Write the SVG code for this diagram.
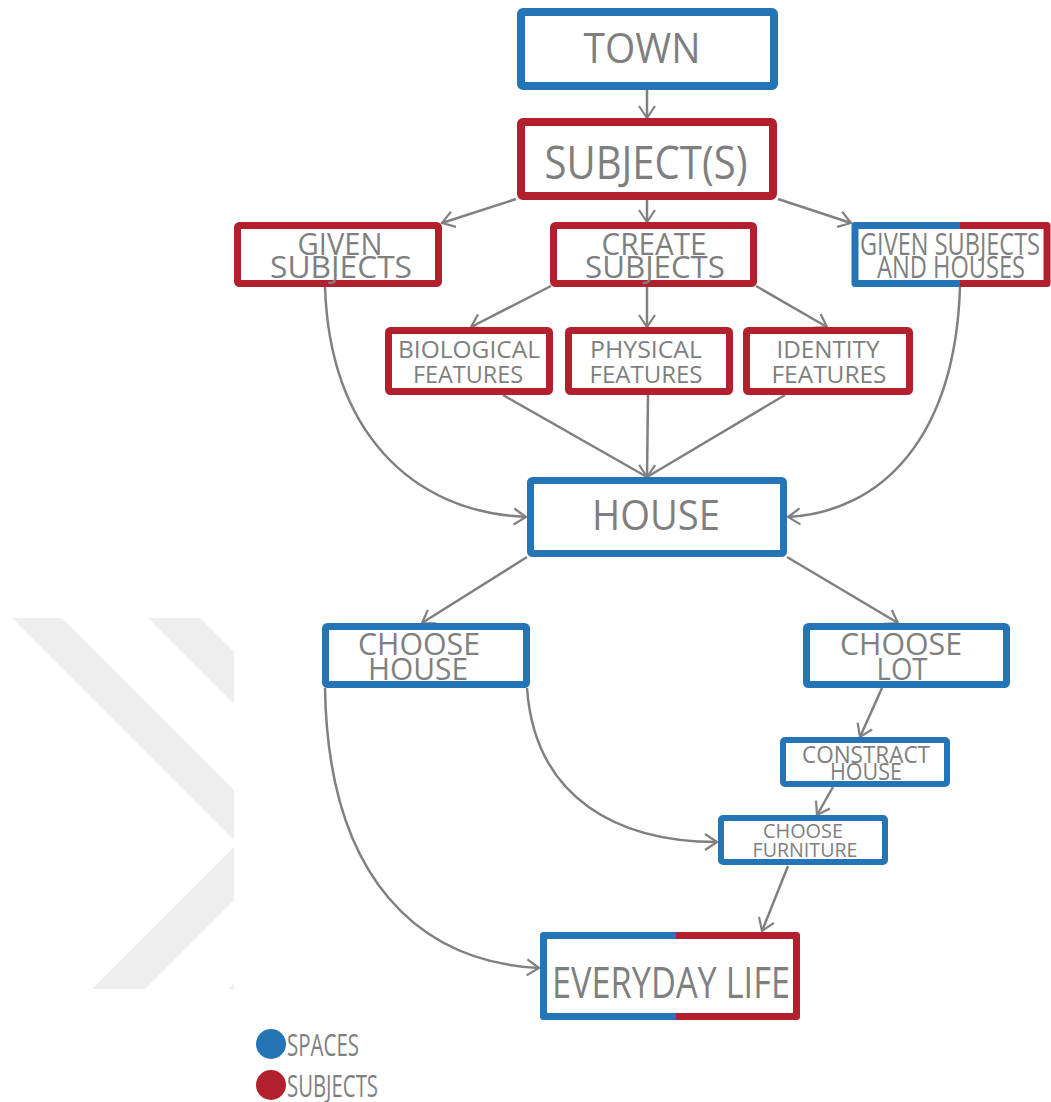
<svg xmlns="http://www.w3.org/2000/svg" width="1051" height="1102" viewBox="0 0 1051 1102">
<defs>
<style>
.bg{fill:#ffffff}
.wm{fill:#eeeeee}
.b{fill:#ffffff;stroke:#2474b6;stroke-linejoin:round}
.r{fill:#ffffff;stroke:#b2202e;stroke-linejoin:round}
.bs{fill:none;stroke:#2474b6;stroke-linejoin:round}
.rs{fill:none;stroke:#b2202e;stroke-linejoin:round}
.t{font-family:"Open Sans","Liberation Sans",sans-serif;fill:#7f7f80;text-anchor:middle}
.c{fill:none;stroke:#808080;stroke-width:2.5}
</style>
<marker id="ah" viewBox="-2 -10 16 20" refX="12" refY="0" markerWidth="16" markerHeight="20" markerUnits="userSpaceOnUse" orient="auto">
<path d="M0,-8 L12,0 L0,8" fill="none" stroke="#808080" stroke-width="2.2"/>
</marker>
<clipPath id="wmclip"><rect x="0" y="600" width="234" height="400"/></clipPath>
</defs>
<rect class="bg" x="0" y="0" width="1051" height="1102"/>
<g id="watermark" clip-path="url(#wmclip)">
<polygon class="wm" points="12,618 62,618 289,845 145,989 92,989 237.5,843.5"/>
<polygon class="wm" points="148,618 200,618 425,843 280,989 228,989 373,843"/>
</g>
<g id="connectors">
<line class="c" x1="647" y1="90" x2="647" y2="118" marker-end="url(#ah)"/>
<line class="c" x1="516" y1="199" x2="442" y2="223" marker-end="url(#ah)"/>
<line class="c" x1="647" y1="200" x2="647" y2="222" marker-end="url(#ah)"/>
<line class="c" x1="778" y1="199" x2="851" y2="223" marker-end="url(#ah)"/>
<line class="c" x1="551" y1="286" x2="471" y2="327" marker-end="url(#ah)"/>
<line class="c" x1="647" y1="287" x2="647" y2="327" marker-end="url(#ah)"/>
<line class="c" x1="756" y1="286" x2="827" y2="327" marker-end="url(#ah)"/>
<line class="c" x1="503" y1="395" x2="647" y2="477"/>
<line class="c" x1="648" y1="395" x2="647" y2="477" marker-end="url(#ah)"/>
<line class="c" x1="785" y1="395" x2="647" y2="477"/>
<path class="c" d="M325,287 C330,430 410,512 526,517" marker-end="url(#ah)"/>
<path class="c" d="M960,287 C955,440 880,512 788,517" marker-end="url(#ah)"/>
<line class="c" x1="527" y1="557" x2="422" y2="623" marker-end="url(#ah)"/>
<line class="c" x1="787" y1="557" x2="898" y2="623" marker-end="url(#ah)"/>
<line class="c" x1="882" y1="688" x2="860" y2="737" marker-end="url(#ah)"/>
<line class="c" x1="833" y1="787" x2="817" y2="815" marker-end="url(#ah)"/>
<path class="c" d="M527,688 C535,800 620,842 717,842" marker-end="url(#ah)"/>
<path class="c" d="M325,688 C328,880 420,962 539,968" marker-end="url(#ah)"/>
<line class="c" x1="788" y1="866" x2="762" y2="931" marker-end="url(#ah)"/>
</g>
<g id="town">
<rect class="b" x="521" y="12" width="253" height="74" rx="2" stroke-width="8"/>
<text class="t" x="642" y="63" font-size="42" textLength="117" lengthAdjust="spacingAndGlyphs">TOWN</text>
</g>
<g id="subjects">
<rect class="r" x="521" y="122" width="252" height="74" rx="2" stroke-width="8"/>
<text class="t" x="646" y="179" font-size="46" textLength="203" lengthAdjust="spacingAndGlyphs">SUBJECT(S)</text>
</g>
<g id="given-subjects">
<rect class="r" x="237.5" y="225.5" width="201" height="58" rx="2" stroke-width="7"/>
<text class="t" x="340" y="255" font-size="31" textLength="85" lengthAdjust="spacingAndGlyphs">GIVEN</text>
<text class="t" x="341" y="278" font-size="31" textLength="142" lengthAdjust="spacingAndGlyphs">SUBJECTS</text>
</g>
<g id="create-subjects">
<rect class="r" x="553.5" y="225.5" width="200" height="58" rx="2" stroke-width="7"/>
<text class="t" x="654" y="255" font-size="31" textLength="105" lengthAdjust="spacingAndGlyphs">CREATE</text>
<text class="t" x="655" y="278" font-size="31" textLength="140" lengthAdjust="spacingAndGlyphs">SUBJECTS</text>
</g>
<g id="given-subjects-houses">
<rect x="855" y="225.5" width="192" height="58" fill="#ffffff"/>
<path class="bs" d="M960,225.5 H855 V283.5 H960" stroke-width="7"/>
<path class="rs" d="M960,225.5 H1047 V283.5 H960" stroke-width="7"/>
<text class="t" x="950" y="255" font-size="31" textLength="180" lengthAdjust="spacingAndGlyphs">GIVEN SUBJECTS</text>
<text class="t" x="951" y="278" font-size="31" textLength="148" lengthAdjust="spacingAndGlyphs">AND HOUSES</text>
</g>
<g id="biological">
<rect class="r" x="388.5" y="330.5" width="161" height="61" rx="2" stroke-width="7"/>
<text class="t" x="469" y="358" font-size="24" textLength="142" lengthAdjust="spacingAndGlyphs">BIOLOGICAL</text>
<text class="t" x="468" y="383" font-size="24" textLength="110" lengthAdjust="spacingAndGlyphs">FEATURES</text>
</g>
<g id="physical">
<rect class="r" x="568.5" y="330.5" width="161" height="61" rx="2" stroke-width="7"/>
<text class="t" x="646" y="358" font-size="24" textLength="112" lengthAdjust="spacingAndGlyphs">PHYSICAL</text>
<text class="t" x="646" y="383" font-size="24" textLength="113" lengthAdjust="spacingAndGlyphs">FEATURES</text>
</g>
<g id="identity">
<rect class="r" x="746.5" y="330.5" width="163" height="61" rx="2" stroke-width="7"/>
<text class="t" x="828" y="358" font-size="24" textLength="103" lengthAdjust="spacingAndGlyphs">IDENTITY</text>
<text class="t" x="829" y="383" font-size="24" textLength="115" lengthAdjust="spacingAndGlyphs">FEATURES</text>
</g>
<g id="house">
<rect class="b" x="530.5" y="480.5" width="253" height="73" rx="2" stroke-width="7"/>
<text class="t" x="656" y="530" font-size="42" textLength="128" lengthAdjust="spacingAndGlyphs">HOUSE</text>
</g>
<g id="choose-house">
<rect class="b" x="325.5" y="626.5" width="201" height="58" rx="2" stroke-width="7"/>
<text class="t" x="419" y="655" font-size="31" textLength="122" lengthAdjust="spacingAndGlyphs">CHOOSE</text>
<text class="t" x="418" y="680" font-size="31" textLength="100" lengthAdjust="spacingAndGlyphs">HOUSE</text>
</g>
<g id="choose-lot">
<rect class="b" x="806.5" y="626.5" width="200" height="58" rx="2" stroke-width="7"/>
<text class="t" x="901" y="655" font-size="31" textLength="122" lengthAdjust="spacingAndGlyphs">CHOOSE</text>
<text class="t" x="902" y="680" font-size="31" textLength="51" lengthAdjust="spacingAndGlyphs">LOT</text>
</g>
<g id="constract-house">
<rect class="b" x="783" y="740" width="164" height="44" rx="2" stroke-width="6"/>
<text class="t" x="866" y="763" font-size="23" textLength="128" lengthAdjust="spacingAndGlyphs">CONSTRACT</text>
<text class="t" x="866" y="780" font-size="23" textLength="72" lengthAdjust="spacingAndGlyphs">HOUSE</text>
</g>
<g id="choose-furniture">
<rect class="b" x="721" y="818" width="164" height="44" rx="2" stroke-width="6"/>
<text class="t" x="803" y="838" font-size="20" textLength="80" lengthAdjust="spacingAndGlyphs">CHOOSE</text>
<text class="t" x="805" y="857" font-size="20" textLength="105" lengthAdjust="spacingAndGlyphs">FURNITURE</text>
</g>
<g id="everyday-life">
<rect x="543.5" y="935.5" width="253" height="81" fill="#ffffff"/>
<path class="bs" d="M676,935.5 H543.5 V1016.5 H676" stroke-width="7"/>
<path class="rs" d="M676,935.5 H796.5 V1016.5 H676" stroke-width="7"/>
<text class="t" x="671" y="998" font-size="44" textLength="238" lengthAdjust="spacingAndGlyphs">EVERYDAY LIFE</text>
</g>
<g id="legend">
<circle cx="271" cy="1044" r="15" fill="#2474b6"/>
<text class="t" x="287" y="1056" font-size="31" style="text-anchor:start" textLength="72" lengthAdjust="spacingAndGlyphs">SPACES</text>
<circle cx="271" cy="1085" r="15" fill="#b2202e"/>
<text class="t" x="287" y="1097" font-size="31" style="text-anchor:start" textLength="91" lengthAdjust="spacingAndGlyphs">SUBJECTS</text>
</g>
</svg>
